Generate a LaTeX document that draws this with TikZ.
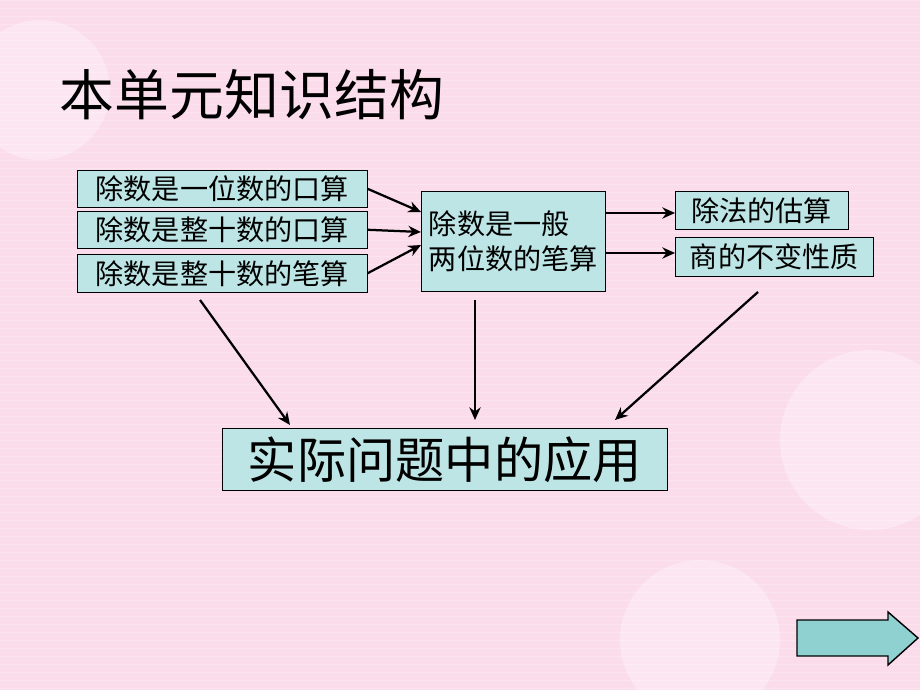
\documentclass[tikz,border=0pt]{standalone}
\usepackage{fontspec}
\newfontfamily\cjk{Noto Sans CJK SC}
\usetikzlibrary{arrows.meta}
\definecolor{bgpink}{HTML}{FADCEB}
\definecolor{boxcyan}{HTML}{BDE5E5}
\definecolor{nextcyan}{HTML}{8FD0D0}
\begin{document}
\begin{tikzpicture}[x=0.025cm,y=-0.025cm]
  \tikzstyle{box} = [rectangle, draw=black, fill=boxcyan, inner sep=0pt, font=\cjk\fontsize{20}{25}\selectfont]
  \tikzstyle{arrow} = [line width=1.6pt,-{Stealth[length=9pt,width=8pt]}]

  \useasboundingbox (0,0) rectangle (920,690);
  \begin{scope}
    \clip (0,0) rectangle (920,690);
    \fill[bgpink] (0,0) rectangle (920,690);
    \foreach \y in {0,8,...,690} \draw[white,opacity=0.25] (0,\y) -- (920,\y);
    \foreach \cx/\cy/\r in {40/90/70,870/440/90,700/640/80} \fill[white,opacity=0.3] (\cx,\cy) circle (\r);
  \end{scope}

  \node (title) [anchor=west, font=\cjk\fontsize{39}{44}\selectfont] at (55,95) {本单元知识结构};

  \node (oral-one) [box, minimum width=290*0.025cm, minimum height=37*0.025cm, anchor=north west] at (77,170) {除数是一位数的口算};
  \node (oral-ten) [box, minimum width=290*0.025cm, minimum height=37*0.025cm, anchor=north west] at (77,211) {除数是整十数的口算};
  \node (written-ten) [box, minimum width=290*0.025cm, minimum height=38*0.025cm, anchor=north west] at (77,254) {除数是整十数的笔算};
  \node (written-two) [box, minimum width=184*0.025cm, minimum height=100*0.025cm, anchor=north west, align=left] at (421,191) {除数是一般\\两位数的笔算};
  \node (estimate) [box, minimum width=173*0.025cm, minimum height=38*0.025cm, anchor=north west] at (675,191) {除法的估算};
  \node (quotient) [box, minimum width=198*0.025cm, minimum height=39*0.025cm, anchor=north west] at (675,237) {商的不变性质};
  \node (apply) [box, minimum width=445*0.025cm, minimum height=62*0.025cm, anchor=north west, font=\cjk\fontsize{35}{40}\selectfont] at (222,428) {实际问题中的应用};

  % next-page button
  \draw[line width=1pt, fill=nextcyan] (797,620) -- (888,620) -- (888,612) -- (918,638) -- (888,665) -- (888,656) -- (797,656) -- cycle;

  % arrow ends
  \coordinate (in-a) at (421,212);
  \coordinate (in-b) at (421,232);
  \coordinate (in-c) at (421,245);
  \coordinate (out-a) at (605,213);
  \coordinate (out-b) at (605,253);
  \coordinate (from-left) at (200,300);
  \coordinate (from-mid) at (475,300);
  \coordinate (from-right) at (758,292);
  \coordinate (to-left) at (290,425);
  \coordinate (to-mid) at (475,420);
  \coordinate (to-right) at (615,420);

  \draw [arrow] (oral-one.east) -- (in-a);
  \draw [arrow] (oral-ten.east) -- (in-b);
  \draw [arrow] (written-ten.east) -- (in-c);
  \draw [arrow] (out-a) -- (675,213);
  \draw [arrow] (out-b) -- (675,253);
  \draw [arrow] (from-left) -- (to-left);
  \draw [arrow] (from-mid) -- (to-mid);
  \draw [arrow] (from-right) -- (to-right);
\end{tikzpicture}
\end{document}
